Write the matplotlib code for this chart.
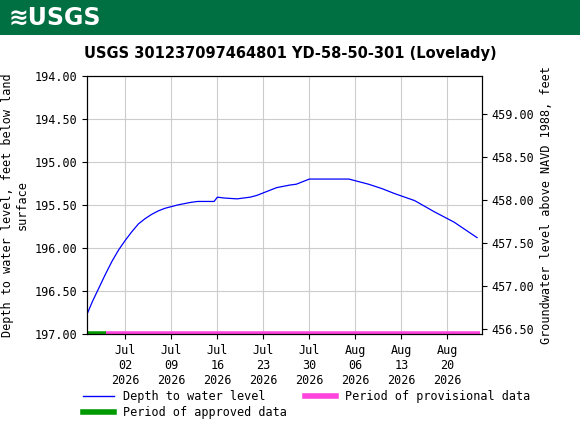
import matplotlib
matplotlib.use("Agg")
import matplotlib.pyplot as plt
import numpy as np
from datetime import datetime

dates = ["2026-06-26","2026-06-27","2026-06-28","2026-06-29","2026-06-30","2026-07-01","2026-07-02",
         "2026-07-03","2026-07-04","2026-07-05","2026-07-06","2026-07-07","2026-07-08","2026-07-10",
         "2026-07-12","2026-07-13","2026-07-15 12:00","2026-07-16","2026-07-17","2026-07-19","2026-07-21",
         "2026-07-22","2026-07-24","2026-07-25","2026-07-27","2026-07-28","2026-07-30","2026-08-05",
         "2026-08-08","2026-08-10","2026-08-12","2026-08-15","2026-08-18","2026-08-21","2026-08-24 12:00"]
levels = [196.80,196.62,196.46,196.30,196.15,196.02,195.91,195.81,195.72,195.66,195.61,195.57,195.54,
          195.50,195.47,195.46,195.46,195.41,195.42,195.43,195.41,195.39,195.33,195.30,195.27,195.26,
          195.20,195.20,195.26,195.31,195.37,195.45,195.58,195.70,195.88]
approved = ["2026-06-26","2026-06-29"]
provisional = ["2026-06-29","2026-08-25"]
xticks = ["2026-07-02","2026-07-09","2026-07-16","2026-07-23","2026-07-30","2026-08-06","2026-08-13","2026-08-20"]
xticklabels = ["Jul\n02\n2026","Jul\n09\n2026","Jul\n16\n2026","Jul\n23\n2026","Jul\n30\n2026","Aug\n06\n2026","Aug\n13\n2026","Aug\n20\n2026"]
OFFSET = 653.44

P = lambda l: [datetime.fromisoformat(s) for s in l]
plt.rcParams['font.family'] = 'DejaVu Sans Mono'
fs = 8.5
fig = plt.figure(figsize=(5.8, 4.3), dpi=100)
hdr = fig.add_axes([0.0, 0.919, 1.0, 0.081])
hdr.set_facecolor('#006f41'); hdr.set_xticks([]); hdr.set_yticks([])
for s in hdr.spines.values(): s.set_visible(False)
hdr.text(0.015, 0.5, "≋USGS", color='white', fontsize=17, fontweight='bold', family='DejaVu Sans', va='center')

ax = fig.add_axes([0.150, 0.223, 0.681, 0.601])
ax.grid(True, color='#cccccc', lw=0.8)
ax.set_axisbelow(True)
ax.plot(P(dates), levels, color='#0000ff', lw=0.9)
ax.plot(P(approved), [197.0, 197.0], color='#009900', lw=4, solid_capstyle='butt')
ax.plot(P(provisional), [197.0, 197.0], color='#ff44dd', lw=4, solid_capstyle='butt')
ax.set_xlim(datetime(2026,6,26,4), datetime(2026,8,25,6))
ax.set_ylim(197.0, 194.0)
ax.set_yticks(np.arange(194.0, 197.01, 0.5))
ax.set_yticklabels([f"{v:.2f}" for v in np.arange(194.0, 197.01, 0.5)], fontsize=fs)
ax.set_xticks(P(xticks)); ax.set_xticklabels(xticklabels, fontsize=fs)
ax.set_ylabel("Depth to water level, feet below land\nsurface", fontsize=fs)
ax2 = ax.twinx()
ax2.set_ylim(OFFSET-197.0, OFFSET-194.0)
ax2.set_yticks(np.arange(456.5, 459.01, 0.5))
ax2.set_yticklabels([f"{v:.2f}" for v in np.arange(456.5, 459.01, 0.5)], fontsize=fs)
ax2.set_ylabel("Groundwater level above NAVD 1988, feet", fontsize=fs)
fig.text(0.5, 0.865, "USGS 301237097464801 YD-58-50-301 (Lovelady)", ha='center', fontsize=10.5,
         fontweight='bold', family='DejaVu Sans')
from matplotlib.lines import Line2D
h = [Line2D([],[],color='#0000ff',lw=1), Line2D([],[],color='#ff44dd',lw=4), Line2D([],[],color='#009900',lw=4)]
lab = ["Depth to water level","Period of provisional data","Period of approved data"]
fig.legend([h[0],h[2],h[1]], [lab[0],lab[2],lab[1]], loc='lower left', bbox_to_anchor=(0.125,0.0), ncol=2,
           frameon=False, fontsize=fs, handlelength=2.6, columnspacing=1.5, labelspacing=0.25)
fig.savefig("out.png", dpi=100)
